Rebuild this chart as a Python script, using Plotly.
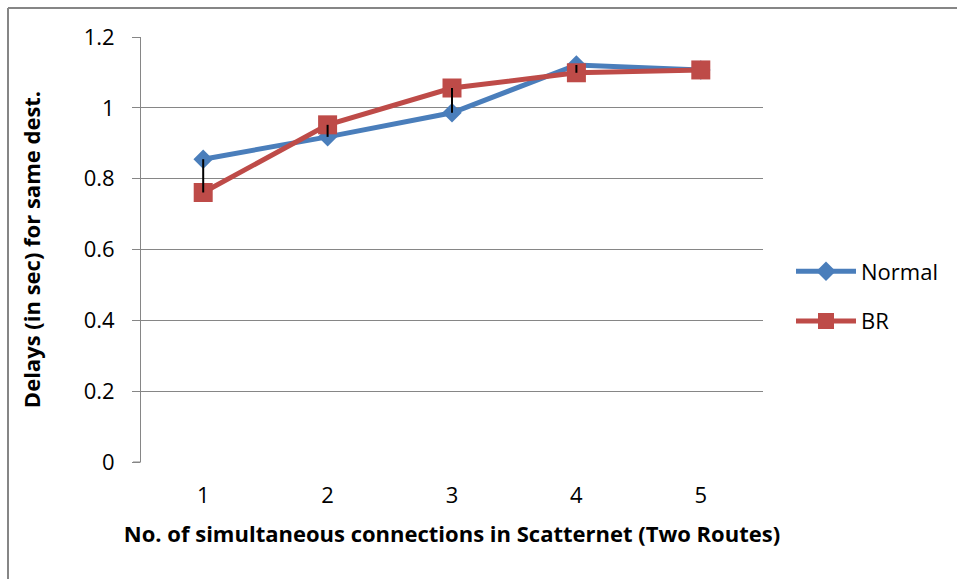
import plotly.graph_objects as go

connections = [1, 2, 3, 4, 5]
normal = [0.855, 0.918, 0.986, 1.121, 1.107]
br = [0.761, 0.952, 1.056, 1.099, 1.107]
err_plus = [0.094, 0.0, 0.0, 0.022, 0.0]
err_minus = [0.0, 0.034, 0.070, 0.0, 0.0]
y_ticks = [0, 0.2, 0.4, 0.6, 0.8, 1, 1.2]

FONT = "Open Sans"
FS = 22
W, H = 957, 579
L, R, T, B = 141, 194, 37, 117
pw, ph = W - L - R, H - T - B

fig = go.Figure()
fig.add_trace(go.Scatter(
    x=connections, y=normal, name="Normal", mode="lines+markers",
    line=dict(color="#4A7EBB", width=5),
    marker=dict(symbol="diamond", size=15, color="#4A7EBB"),
    legendgroup="a"))
fig.add_trace(go.Scatter(
    x=connections, y=br, name="BR", mode="lines+markers",
    line=dict(color="#BE4B48", width=5),
    marker=dict(symbol="square", size=19, color="#BE4B48"),
    legendgroup="b"))
fig.add_trace(go.Scatter(
    x=connections, y=br, mode="markers", showlegend=False, hoverinfo="skip",
    marker=dict(size=1, color="rgba(0,0,0,0)"),
    error_y=dict(type="data", symmetric=False, array=err_plus, arrayminus=err_minus,
                 color="black", thickness=2, width=0)))

fig.update_layout(
    width=W, height=H,
    margin=dict(l=L, r=R, t=T, b=B, autoexpand=False),
    paper_bgcolor="white", plot_bgcolor="white",
    font=dict(family=FONT, size=FS, color="black"),
    showlegend=True,
    legend=dict(x=(791 - L) / pw, y=1 - (296.5 - T) / ph, xanchor="left", yanchor="middle",
                itemwidth=60, tracegroupgap=18, traceorder="grouped",
                font=dict(family=FONT, size=FS, color="black"),
                bgcolor="rgba(0,0,0,0)"),
    xaxis=dict(range=[0.5, 5.5], tickvals=connections, showgrid=False,
               zeroline=False, showline=False, ticks="", automargin=False,
               ticklabelstandoff=18,
               tickfont=dict(family=FONT, size=FS),
               title=dict(text="<b>No. of simultaneous connections in Scatternet (Two Routes)</b>",
                          font=dict(family=FONT, size=FS), standoff=18)),
    yaxis=dict(range=[0, 1.2], tickvals=y_ticks, ticktext=["0", "0.2", "0.4", "0.6", "0.8", "1", "1.2"],
               showgrid=True, gridcolor="#868686", gridwidth=1,
               zeroline=False, showline=True, linecolor="#868686", linewidth=1,
               ticks="outside", ticklen=8, tickcolor="#868686", automargin=False,
               ticklabelstandoff=13,
               tickfont=dict(family=FONT, size=FS),
               title=dict(text="<b>Delays (in sec) for same dest.</b>",
                          font=dict(family=FONT, size=FS), standoff=36)),
    shapes=[
        dict(type="line", xref="paper", yref="paper",
             x0=(8 - L) / pw, x1=(W + 5 - L) / pw, y0=(H - 8 - B) / ph, y1=(H - 8 - B) / ph,
             line=dict(color="#868686", width=2)),
        dict(type="line", xref="paper", yref="paper",
             x0=(8 - L) / pw, x1=(8 - L) / pw, y0=(H - 8 - B) / ph, y1=-(B + 5) / ph,
             line=dict(color="#868686", width=2)),
        dict(type="line", xref="paper", yref="paper",
             x0=-8 / pw, x1=0, y0=0, y1=0, line=dict(color="#868686", width=1)),
    ],
)
fig.write_html("out.html", config={"displayModeBar": False},
               post_script="document.body.style.margin='0';")
